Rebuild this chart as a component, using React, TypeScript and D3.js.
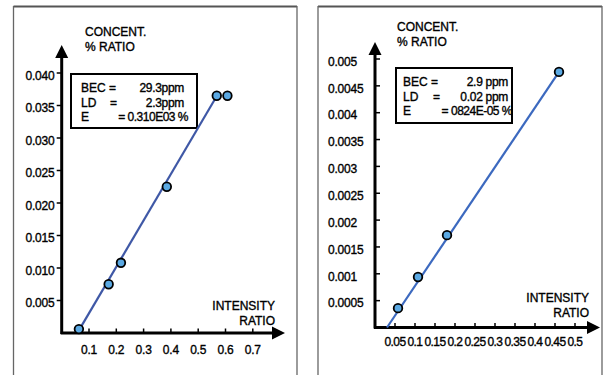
import React from "react";
import { scaleLinear, line } from "d3";

// left chart: calibration with BEC 29.3 ppm
const leftX = [0.063, 0.172, 0.217, 0.385, 0.568, 0.607];
const leftY = [0.0006, 0.0075, 0.0108, 0.0225, 0.0365, 0.0365];
const leftFitX = [0.07, 0.566];
const leftFitY = [0.0009, 0.0363];
const leftXTicks = [0.1, 0.2, 0.3, 0.4, 0.5, 0.6, 0.7];
const leftXLabels = ["0.1", "0.2", "0.3", "0.4", "0.5", "0.6", "0.7"];
const leftYTicks = [0.005, 0.01, 0.015, 0.02, 0.025, 0.03, 0.035, 0.04];
const leftYLabels = ["0.005", "0.010", "0.015", "0.020", "0.025", "0.030", "0.035", "0.040"];
const leftInfo = ["29.3ppm", "2.3ppm", "= 0.310E03 %"];

// right chart: calibration with BEC 2.9 ppm
const rightX = [0.0575, 0.1075, 0.18, 0.46];
const rightY = [0.00036, 0.00094, 0.00172, 0.00476];
const rightFitX = [0.03, 0.46];
const rightFitY = [0, 0.00476];
const rightXTicks = [0.05, 0.1, 0.15, 0.2, 0.25, 0.3, 0.35, 0.4, 0.45, 0.5];
const rightXLabels = ["0.05", "0.1", "0.15", "0.2", "0.25", "0.3", "0.35", "0.4", "0.45", "0.5"];
const rightYTicks = [0.0005, 0.001, 0.0015, 0.002, 0.0025, 0.003, 0.0035, 0.004, 0.0045, 0.005];
const rightYLabels = ["0.0005", "0.001", "0.0015", "0.002", "0.0025", "0.003", "0.0035", "0.004", "0.0045", "0.005"];
const rightInfo = ["2.9   ppm", "0.02 ppm", "= 0824E-05 %"];

const font = "'Liberation Sans', Arial, sans-serif";
const fs = 12;

type PanelProps = {
  frame: [number, number];
  xs: number[];
  ys: number[];
  fitX: number[];
  fitY: number[];
  xTicks: number[];
  xLabels: string[];
  yTicks: number[];
  yLabels: string[];
  info: string[];
  xScale: any;
  yScale: any;
  axisEnd: { x: number; y: number };
  yLabelX: number;
  yLabelAnchor: string;
  yTickSide: number;
  xLabelY: number;
  xLabelSpacing: number;
  lineColor: string;
  box: { x: number; y: number; w: number; h: number };
  infoCols: [number, number, number];
  concentPos: [number, number];
  intensityPos: [number, number];
};

function Panel(p: PanelProps) {
  const x0 = p.xScale(0);
  const y0 = p.yScale(0);
  const fit = line<number>()
    .x((d) => p.xScale(p.fitX[d]))
    .y((d) => p.yScale(p.fitY[d]));
  const lh = 14.5;
  const ty = p.box.y + 14;
  return (
    <g fontFamily={font} fill="#000" stroke="none">
      {/* frame */}
      <line x1={p.frame[0]} x2={p.frame[1]} y1={6.5} y2={6.5} stroke="#555" strokeWidth={2} />
      <line x1={p.frame[0]} x2={p.frame[0]} y1={6} y2={375} stroke="#666" strokeWidth={1.3} />
      <line x1={p.frame[1]} x2={p.frame[1]} y1={6} y2={375} stroke="#666" strokeWidth={1.3} />

      {/* axes */}
      <line x1={x0} x2={x0} y1={y0 + 1} y2={p.axisEnd.y + 8} stroke="#000" strokeWidth={3} />
      <line x1={x0 - 1} x2={p.axisEnd.x - 8} y1={y0} y2={y0} stroke="#000" strokeWidth={3} />
      <path
        d={`M${x0},${p.axisEnd.y} L${x0 - 6.5},${p.axisEnd.y + 13} L${x0 + 6.5},${p.axisEnd.y + 13} Z`}
        fill="#000"
      />
      <path
        d={`M${p.axisEnd.x},${y0} L${p.axisEnd.x - 13},${y0 - 6.5} L${p.axisEnd.x - 13},${y0 + 6.5} Z`}
        fill="#000"
      />

      <g stroke="#000" strokeWidth={0.35}>
        {p.yTicks.map((t, i) => (
          <g key={"y" + i}>
            <line
              x1={x0}
              x2={x0 + p.yTickSide * 5}
              y1={p.yScale(t)}
              y2={p.yScale(t)}
              stroke="#000"
              strokeWidth={1.5}
            />
            <text
              x={p.yLabelX}
              y={p.yScale(t) + 2.5}
              dy="0.35em"
              fontSize={fs}
              textAnchor={p.yLabelAnchor}
              letterSpacing={-0.2}
            >
              {p.yLabels[i]}
            </text>
          </g>
        ))}
        {p.xTicks.map((t, i) => (
          <g key={"x" + i}>
            <line
              x1={p.xScale(t)}
              x2={p.xScale(t)}
              y1={y0}
              y2={y0 - 4.5}
              stroke="#000"
              strokeWidth={1.5}
            />
            <text
              x={p.xScale(t)}
              y={p.xLabelY}
              dy="0.35em"
              fontSize={fs}
              textAnchor="middle"
              letterSpacing={p.xLabelSpacing}
            >
              {p.xLabels[i]}
            </text>
          </g>
        ))}

        {/* axis titles */}
        <text x={p.concentPos[0]} y={p.concentPos[1]} dy="0.35em" fontSize={fs}>
          CONCENT.
        </text>
        <text x={p.concentPos[0]} y={p.concentPos[1] + 14.5} dy="0.35em" fontSize={fs}>
          % RATIO
        </text>
        <text x={p.intensityPos[0]} y={p.intensityPos[1]} dy="0.35em" fontSize={fs} textAnchor="end">
          INTENSITY
        </text>
        <text
          x={p.intensityPos[0]}
          y={p.intensityPos[1] + 15}
          dy="0.35em"
          fontSize={fs}
          textAnchor="end"
        >
          RATIO
        </text>
      </g>

      {/* info box */}
      <rect
        x={p.box.x}
        y={p.box.y}
        width={p.box.w}
        height={p.box.h}
        fill="#fff"
        stroke="#000"
        strokeWidth={2}
      />
      <g fontSize={fs} stroke="#000" strokeWidth={0.35}>
        <text x={p.infoCols[0]} y={ty} dy="0.35em">BEC =</text>
        <text x={p.infoCols[2]} y={ty} dy="0.35em" textAnchor="end" letterSpacing={-0.3}>
          {p.info[0]}
        </text>
        <text x={p.infoCols[0]} y={ty + lh} dy="0.35em">LD</text>
        <text x={p.infoCols[1]} y={ty + lh} dy="0.35em">=</text>
        <text x={p.infoCols[2]} y={ty + lh} dy="0.35em" textAnchor="end" letterSpacing={-0.3}>
          {p.info[1]}
        </text>
        <text x={p.infoCols[0]} y={ty + 2 * lh} dy="0.35em">E</text>
        <text x={p.infoCols[2] + 4} y={ty + 2 * lh} dy="0.35em" textAnchor="end" letterSpacing={-0.5}>
          {p.info[2]}
        </text>
      </g>

      {/* fit line and points */}
      <path d={fit([0, 1]) || ""} stroke={p.lineColor} strokeWidth={2.2} fill="none" />
      {p.xs.map((v, i) => (
        <circle
          key={"p" + i}
          cx={p.xScale(v)}
          cy={p.yScale(p.ys[i])}
          r={4.3}
          fill="#5ba9e3"
          stroke="#000"
          strokeWidth={1.8}
        />
      ))}
    </g>
  );
}

export default function App() {
  const lx = scaleLinear().domain([0, 0.7]).range([61.7, 252.8]);
  const ly = scaleLinear().domain([0, 0.04]).range([333, 73]);
  const rx = scaleLinear().domain([0, 0.5]).range([375, 575]);
  const ry = scaleLinear().domain([0, 0.005]).range([327.5, 59]);

  return (
    <svg
      width={610}
      height={375}
      style={{ position: "absolute", left: 0, top: 0, background: "#fff" }}
    >
      <rect width={610} height={375} fill="#fff" />
      <Panel
        frame={[13.5, 297]}
        xs={leftX}
        ys={leftY}
        fitX={leftFitX}
        fitY={leftFitY}
        xTicks={leftXTicks}
        xLabels={leftXLabels}
        yTicks={leftYTicks}
        yLabels={leftYLabels}
        info={leftInfo}
        xScale={lx}
        yScale={ly}
        axisEnd={{ x: 285, y: 45 }}
        yLabelX={54.5}
        yLabelAnchor="end"
        yTickSide={-1}
        xLabelY={350}
        xLabelSpacing={-0.2}
        lineColor="#3f58a6"
        box={{ x: 71, y: 74, w: 126, h: 54 }}
        infoCols={[81, 110, 184]}
        concentPos={[85, 32]}
        intensityPos={[275, 306]}
      />
      <Panel
        frame={[318, 602]}
        xs={rightX}
        ys={rightY}
        fitX={rightFitX}
        fitY={rightFitY}
        xTicks={rightXTicks}
        xLabels={rightXLabels}
        yTicks={rightYTicks}
        yLabels={rightYLabels}
        info={rightInfo}
        xScale={rx}
        yScale={ry}
        axisEnd={{ x: 600, y: 42 }}
        yLabelX={328}
        yLabelAnchor="start"
        yTickSide={1}
        xLabelY={342}
        xLabelSpacing={-0.6}
        lineColor="#3c69bf"
        box={{ x: 396, y: 68, w: 116, h: 55 }}
        infoCols={[403, 433, 508]}
        concentPos={[397, 27]}
        intensityPos={[589, 298]}
      />
    </svg>
  );
}
